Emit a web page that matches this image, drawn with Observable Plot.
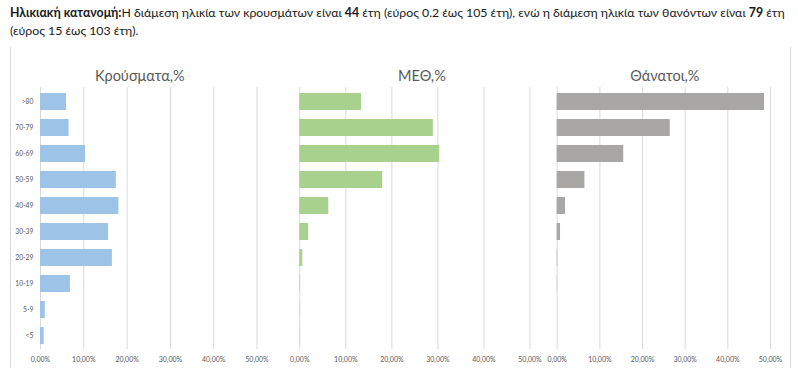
<!DOCTYPE html>
<html><head><meta charset="utf-8">
<script src="https://cdn.jsdelivr.net/npm/d3@7"></script>
<script src="https://cdn.jsdelivr.net/npm/@observablehq/plot@0.6"></script>
<style>
body{margin:0;background:#fff;width:798px;height:368px;position:relative;overflow:hidden;font-family:Lato,sans-serif;}
#hdr{position:absolute;left:10px;top:4px;font-size:12.3px;line-height:18px;color:#1a1a1a;white-space:nowrap;}
#frame{position:absolute;left:10px;top:47px;width:779px;height:330px;border-left:1px solid #d9d9d9;border-right:1px solid #d9d9d9;}
.p{position:absolute;top:48px;}
.p svg{overflow:visible;}
</style></head><body>
<div id="hdr"><b>Ηλικιακή κατανομή:</b>Η διάμεση ηλικία των κρουσμάτων είναι <b>44</b> έτη (εύρος 0.2 έως 105 έτη), ενώ η διάμεση ηλικία των θανόντων είναι <b>79</b> έτη<br>(εύρος 15 έως 103 έτη).</div>
<div id="frame"></div>
<div class="p" id="p1" style="left:0px"></div>
<div class="p" id="p2" style="left:280px"></div>
<div class="p" id="p3" style="left:540px"></div>
<script>
const ageGroups = [">80","70-79","60-69","50-59","40-49","30-39","20-29","10-19","5-9","<5"];
const cases  = [6.0, 6.6, 10.4, 17.5, 18.1, 15.7, 16.6, 6.9, 1.1, 0.85];
const icu    = [13.4, 29.0, 30.4, 18.0, 6.3, 1.9, 0.65, 0.1, 0.05, 0.05];
const deaths = [48.6, 26.5, 15.6, 6.5, 1.95, 0.78, 0.1, 0.05, 0, 0];
const xTicks = [0, 10, 20, 30, 40, 50];
const panelTitles = ["Κρούσματα,%", "ΜΕΘ,%", "Θάνατοι,%"];
const colors = ["#9dc3e6", "#a9d18e", "#a9a6a6"];

const fmt = d => d.toFixed(2).replace(".", ",") + "%";

function panel(values, title, color, opts) {
  const data = ageGroups.map((g, i) => ({group: g, value: values[i]}));
  return Plot.plot({
    width: opts.width,
    height: 320,
    marginTop: 35,
    marginBottom: 14,
    marginLeft: opts.ml,
    marginRight: opts.mr,
    style: {fontFamily: "Lato, sans-serif", background: "transparent", overflow: "visible", color: "#595959"},
    x: {domain: [0, 50], label: null},
    y: {domain: ageGroups, padding: 0.36, label: null},
    marks: [
      Plot.ruleX(xTicks, {stroke: "#d9d9d9", strokeWidth: 1, insetTop: 4, insetBottom: 5}),
      Plot.barX(data, {x: "value", y: "group", fill: color}),
      Plot.axisX({ticks: xTicks, tickFormat: fmt, tickSize: 0, tickPadding: 3, fontSize: 7, color: "#595959", label: null}),
      opts.yAxis
        ? Plot.axisY({tickSize: 0, tickPadding: 7, fontSize: 6.8, color: "#595959", label: null})
        : Plot.axisY({ticks: [], label: null}),
      Plot.text([title], {frameAnchor: "top", dy: -13, dx: opts.tdx, fontSize: 14.5, fill: "#595959"})
    ]
  });
}

document.getElementById("p1").append(panel(cases, panelTitles[0], colors[0], {width: 280, ml: 40, mr: 23.5, yAxis: true, tdx: -9}));
document.getElementById("p2").append(panel(icu, panelTitles[1], colors[1], {width: 260, ml: 19.3, mr: 10.5, yAxis: false, tdx: 7}));
document.getElementById("p3").append(panel(deaths, panelTitles[2], colors[2], {width: 250, ml: 16.7, mr: 20, yAxis: false, tdx: 1}));
</script>
</body></html>
